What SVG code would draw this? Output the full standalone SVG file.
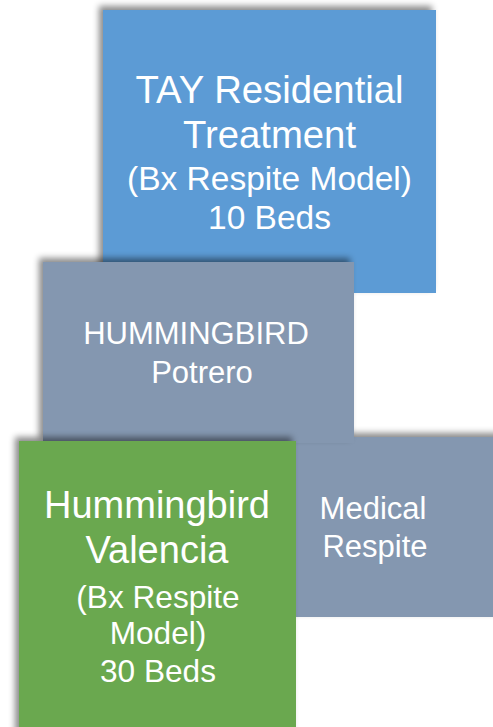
<svg xmlns="http://www.w3.org/2000/svg" width="493" height="727" viewBox="0 0 493 727">
  <defs>
    <!-- soft shadow cast up and to the left of each card -->
    <filter id="shade" x="-10%" y="-10%" width="120%" height="120%">
      <feDropShadow dx="-4" dy="-4" stdDeviation="3" flood-color="#000" flood-opacity="0.45"/>
    </filter>
  </defs>
  <style>
    .card { filter: url(#shade); }
    .blue { fill: #5B9BD5; }
    .slate { fill: #8497B0; }
    .green { fill: #6AA84F; }
    text { font-family: "Liberation Sans", Arial, sans-serif; fill: #FFFFFF; text-anchor: middle; }
    .big { font-size: 38.3px; }
    .mid { font-size: 33.5px; }
    .sm { font-size: 31px; }
    .gb { font-size: 38px; }
    .gs { font-size: 31.6px; }
  </style>

  <rect width="493" height="727" fill="#FFFFFF"/>

  <g id="tay-residential">
    <rect class="card blue" x="103" y="10" width="333" height="283"/>
    <text class="big" x="269.5" y="102.5">TAY Residential</text>
    <text class="big" x="269.5" y="148">Treatment</text>
    <text class="mid" x="269.5" y="190">(Bx Respite Model)</text>
    <text class="mid" x="269.5" y="229">10 Beds</text>
  </g>

  <g id="medical-respite">
    <rect class="card slate" x="255" y="437" width="250" height="180"/>
    <text class="sm" x="373" y="519">Medical</text>
    <text class="sm" x="375" y="557">Respite</text>
  </g>

  <g id="hummingbird-potrero">
    <rect class="card slate" x="43" y="262" width="311" height="181"/>
    <text class="sm" x="196" y="343.5">HUMMINGBIRD</text>
    <text class="sm" x="202" y="382.5">Potrero</text>
  </g>

  <g id="hummingbird-valencia">
    <rect class="card green" x="19" y="441" width="277" height="300"/>
    <text class="gb" x="157" y="517.5">Hummingbird</text>
    <text class="gb" x="157" y="562.5">Valencia</text>
    <text class="gs" x="158" y="608">(Bx Respite</text>
    <text class="gs" x="158" y="644">Model)</text>
    <text class="gs" x="158" y="681.5">30 Beds</text>
  </g>

  <g id="connectors"/>
</svg>
